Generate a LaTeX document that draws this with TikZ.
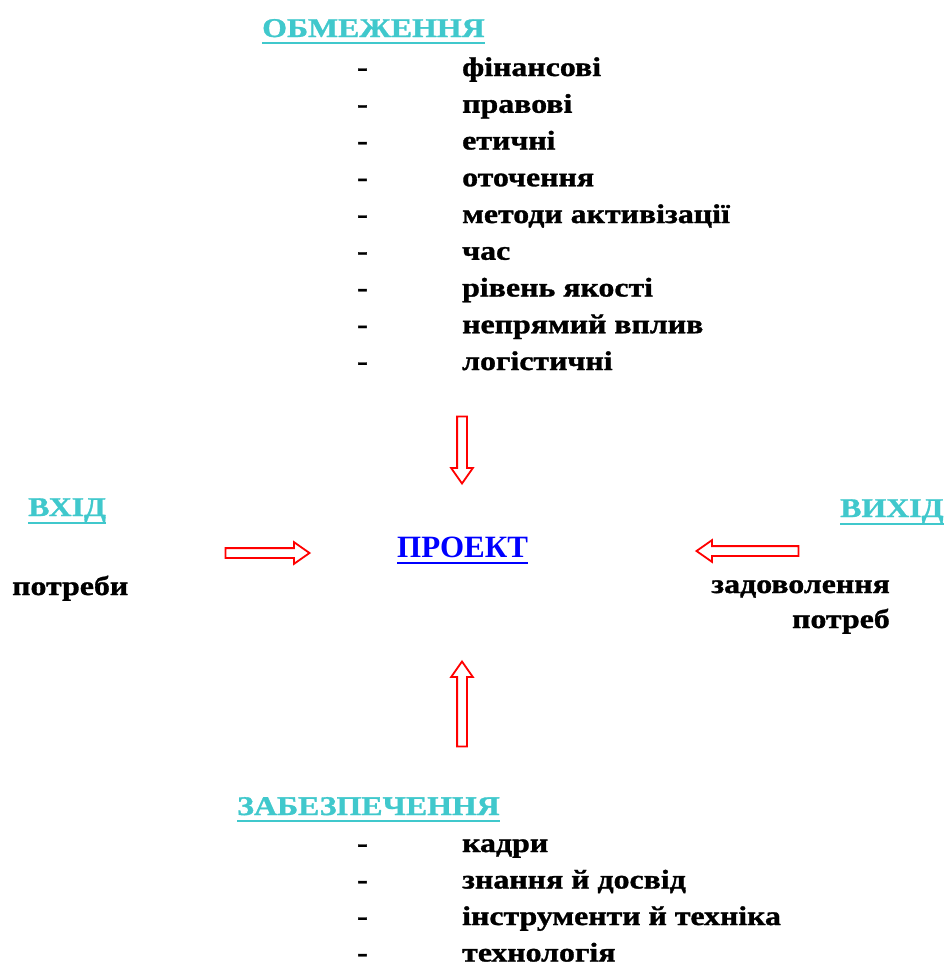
\documentclass[tikz,border=0pt]{standalone}
\usepackage{fontspec}
\setmainfont{Liberation Serif}
\newfontfamily\widefont{Liberation Serif}[FakeStretch=1.18,FakeBold=1.2]
\usetikzlibrary{shapes.arrows}
\definecolor{headcol}{RGB}{64,200,204}
\definecolor{projcol}{RGB}{0,0,255}
\tikzset{
  txt/.style={inner sep=0pt, font=\widefont\bfseries\fontsize{27}{27}\selectfont},
  heading/.style={txt, anchor=base west, text=headcol},
  listitem/.style={txt, anchor=base west},
  dashmark/.style={txt, anchor=base west},
  uline/.style={line width=2.5pt},
  blockarrow/.style={single arrow, draw=red, fill=white, line width=1.8pt,
    inner sep=4pt, single arrow head extend=6pt, single arrow tip angle=70}
}
\begin{document}
\begin{tikzpicture}[x=1pt,y=1pt]
\useasboundingbox (0,0) rectangle (944,-967);

% top block
\node[heading] (limhead) at (262,-37) {ОБМЕЖЕННЯ};
\draw[headcol,uline] ([yshift=-6]limhead.base west) -- ([yshift=-6]limhead.base east);
\foreach \t [count=\i] in {фінансові, правові, етичні, оточення, методи активізації,
    час, рівень якості, непрямий вплив, логістичні}{
  \node[dashmark] (limdash\i) at (357,{-76-36.75*(\i-1)}) {-};
  \node[listitem] (lim\i) at (462,{-76-36.75*(\i-1)}) {\t};
}

% centre
\node[inner sep=0pt, anchor=base west, text=projcol, font=\bfseries\fontsize{31}{31}\selectfont]
  (proj) at (397,-557) {ПРОЕКТ};
\draw[projcol,uline] ([yshift=-6]proj.base west) -- ([yshift=-6]proj.base east);

% left
\node[heading] (inhead) at (28,-516) {ВХІД};
\draw[headcol,uline] ([yshift=-7]inhead.base west) -- ([yshift=-7]inhead.base east);
\node[listitem] (need) at (12,-595) {потреби};

% right
\node[heading] (outhead) at (840,-517) {ВИХІД};
\draw[headcol,uline] ([yshift=-7]outhead.base west) -- ([yshift=-7]outhead.base east);
\node[txt, anchor=base east] (sat1) at (890,-593) {задоволення};
\node[txt, anchor=base east] (sat2) at (890,-628) {потреб};

% bottom block
\node[heading] (reshead) at (237,-815) {ЗАБЕЗПЕЧЕННЯ};
\draw[headcol,uline] ([yshift=-6]reshead.base west) -- ([yshift=-6]reshead.base east);
\foreach \t [count=\i] in {кадри, знання й досвід, інструменти й техніка, технологія}{
  \node[dashmark] (resdash\i) at (357,{-852-36.5*(\i-1)}) {-};
  \node[listitem] (res\i) at (462,{-852-36.5*(\i-1)}) {\t};
}

% block arrows
\node[blockarrow, rotate=-90, minimum height=67pt] (arrtop) at (462,-446.5) {};
\node[blockarrow, minimum height=84pt] (arrleft) at (264,-553) {};
\node[blockarrow, rotate=180, minimum height=102pt] (arrright) at (751,-551) {};
\node[blockarrow, rotate=90, minimum height=85pt] (arrbot) at (462,-707.5) {};
\end{tikzpicture}
\end{document}
